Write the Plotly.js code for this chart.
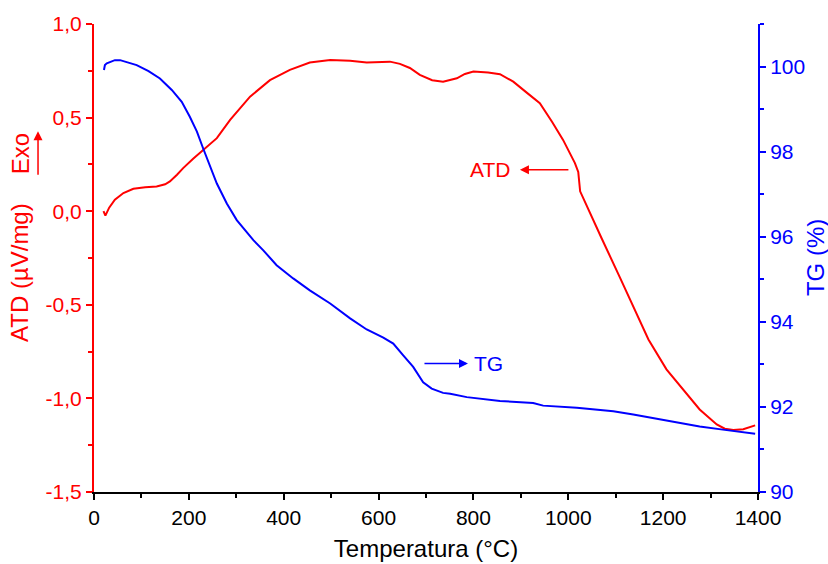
<!DOCTYPE html>
<html>
<head>
<meta charset="utf-8">
<script src="https://cdn.plot.ly/plotly-3.0.1.min.js"></script>
<style>html,body{margin:0;padding:0;background:#fff;}#chart{width:828px;height:564px;}</style>
</head>
<body>
<div id="chart"></div>
<script>
// ATD curve (left axis, µV/mg)
const atdTemp = [20, 24, 32, 44, 62, 83, 108, 132, 150, 160, 175, 188, 209, 230, 259, 287, 329, 371, 413, 455, 498, 540, 575, 624, 645, 666, 687, 713, 736, 765, 782, 800, 831, 856, 884, 913, 940, 966, 989, 1014, 1021, 1025, 1039, 1070, 1109, 1141, 1169, 1207, 1242, 1277, 1313, 1330, 1348, 1369, 1394];
const atdValue = [0.0, -0.024, 0.019, 0.061, 0.097, 0.12, 0.128, 0.132, 0.144, 0.159, 0.195, 0.23, 0.28, 0.328, 0.39, 0.488, 0.612, 0.70, 0.755, 0.794, 0.808, 0.804, 0.794, 0.799, 0.787, 0.765, 0.728, 0.70, 0.692, 0.71, 0.733, 0.746, 0.741, 0.732, 0.692, 0.632, 0.577, 0.477, 0.381, 0.257, 0.21, 0.106, 0.026, -0.143, -0.355, -0.536, -0.685, -0.845, -0.952, -1.059, -1.139, -1.162, -1.169, -1.165, -1.144];

// TG curve (right axis, %)
const tgTemp = [21, 23, 27, 34, 44, 55, 69, 90, 115, 139, 164, 185, 202, 217, 230, 245, 259, 280, 301, 336, 357, 385, 420, 455, 498, 540, 575, 610, 631, 652, 673, 694, 712, 736, 751, 786, 856, 926, 947, 1018, 1067, 1095, 1137, 1207, 1277, 1330, 1394];
const tgValue = [99.92, 100.035, 100.075, 100.11, 100.15, 100.15, 100.11, 100.035, 99.894, 99.72, 99.45, 99.17, 98.82, 98.47, 98.08, 97.64, 97.25, 96.78, 96.39, 95.92, 95.68, 95.33, 95.02, 94.74, 94.43, 94.08, 93.82, 93.63, 93.49, 93.21, 92.94, 92.58, 92.43, 92.33, 92.31, 92.23, 92.14, 92.09, 92.03, 91.98, 91.92, 91.90, 91.82, 91.68, 91.54, 91.46, 91.37];

const xTicks = [0, 200, 400, 600, 800, 1000, 1200, 1400];
const yTicks = [1.0, 0.5, 0.0, -0.5, -1.0, -1.5];
const yTickText = ["1,0", "0,5", "0,0", "-0,5", "-1,0", "-1,5"];
const y2Ticks = [90, 92, 94, 96, 98, 100];

const RED = '#ff0000', BLUE = '#0000ff';
const FONT = 'Arial, "Liberation Sans", sans-serif';

const traces = [
  {x: atdTemp, y: atdValue, type: 'scatter', mode: 'lines', line: {color: RED, width: 2}, yaxis: 'y', hoverinfo: 'skip'},
  {x: tgTemp, y: tgValue, type: 'scatter', mode: 'lines', line: {color: BLUE, width: 2}, yaxis: 'y2', hoverinfo: 'skip'}
];

const layout = {
  width: 828, height: 564,
  margin: {l: 94, r: 70, t: 24, b: 72},
  paper_bgcolor: '#fff', plot_bgcolor: '#fff',
  showlegend: false,
  font: {family: FONT, size: 21, color: '#000'},
  xaxis: {
    range: [0, 1400], tickvals: xTicks, ticks: 'outside', ticklen: 6, tickwidth: 2, tickcolor: '#000',
    showline: true, linecolor: '#000', linewidth: 2, showgrid: false, zeroline: false,
    tickfont: {size: 21, color: '#000'},
    minor: {dtick: 100, ticks: 'outside', ticklen: 4, tickwidth: 2, tickcolor: '#000', showgrid: false},
    title: {text: 'Temperatura (°C)', font: {size: 24, color: '#000'}, standoff: 12}
  },
  yaxis: {
    range: [-1.5, 1.0], tickvals: yTicks, ticktext: yTickText, ticks: 'outside', ticklen: 6, tickwidth: 2, tickcolor: RED,
    showline: true, linecolor: RED, linewidth: 2, showgrid: false, zeroline: false,
    tickfont: {size: 21, color: RED},
    minor: {dtick: 0.25, ticks: 'outside', ticklen: 4, tickwidth: 2, tickcolor: RED, showgrid: false}
  },
  yaxis2: {
    range: [90, 101], overlaying: 'y', side: 'right', tickvals: y2Ticks, ticks: 'outside', ticklen: 6, tickwidth: 2, tickcolor: BLUE,
    showline: true, linecolor: BLUE, linewidth: 2, showgrid: false, zeroline: false,
    tickfont: {size: 21, color: BLUE},
    minor: {dtick: 1, ticks: 'outside', ticklen: 4, tickwidth: 2, tickcolor: BLUE, showgrid: false}
  },
  annotations: [
    {xref: 'paper', yref: 'paper', x: -0.1114, y: 0.468, xanchor: 'center', yanchor: 'middle', text: 'ATD (µV/mg)', textangle: -90, showarrow: false, font: {size: 24, color: RED}},
    {xref: 'paper', yref: 'paper', x: -0.1114, y: 0.722, xanchor: 'center', yanchor: 'middle', text: 'Exo', textangle: -90, showarrow: false, font: {size: 24, color: RED}},
    {xref: 'paper', yref: 'paper', x: -0.0843, y: 0.771, text: '', showarrow: true, ax: 0, ay: 45, arrowhead: 2, arrowsize: 1.2, arrowwidth: 1.5, arrowcolor: RED},
    {xref: 'paper', yref: 'paper', x: 1.086, y: 0.50, xanchor: 'center', yanchor: 'middle', text: 'TG (%)', textangle: -90, showarrow: false, font: {size: 24, color: BLUE}},
    {xref: 'x', yref: 'y', x: 835, y: 0.221, text: 'ATD', showarrow: false, font: {size: 21, color: RED}},
    {xref: 'x', yref: 'y', x: 898, y: 0.221, text: '', showarrow: true, ax: 50, ay: 0, arrowhead: 2, arrowsize: 1.2, arrowwidth: 1.5, arrowcolor: RED},
    {xref: 'x', yref: 'y2', x: 832, y: 93.02, text: 'TG', showarrow: false, font: {size: 21, color: BLUE}},
    {xref: 'x', yref: 'y2', x: 788.5, y: 93.02, text: '', showarrow: true, ax: -45, ay: 0, arrowhead: 2, arrowsize: 1.2, arrowwidth: 1.5, arrowcolor: BLUE}
  ]
};

Plotly.newPlot('chart', traces, layout, {displayModeBar: false, staticPlot: true});
</script>
</body>
</html>
